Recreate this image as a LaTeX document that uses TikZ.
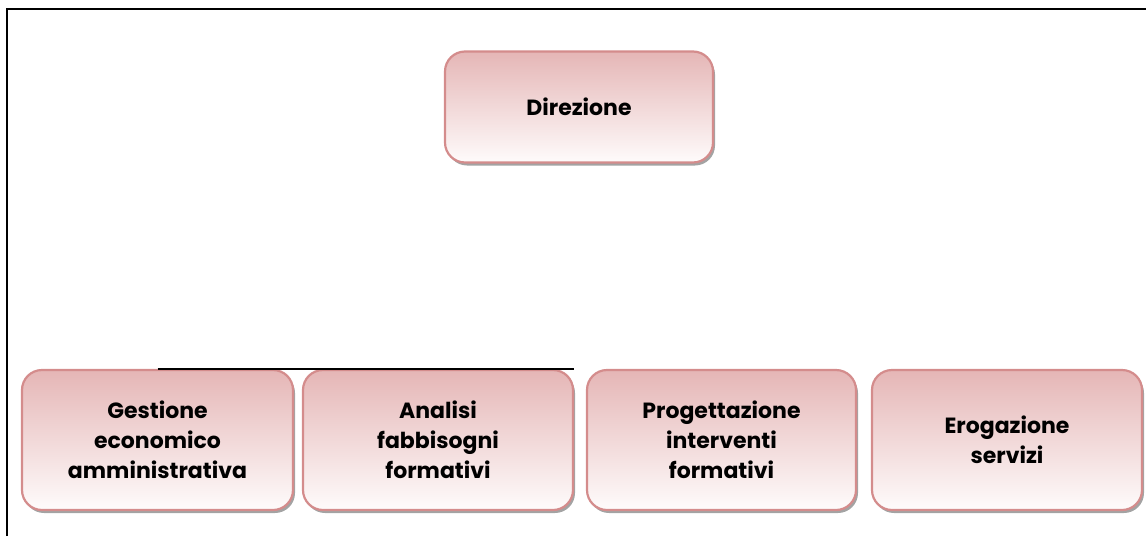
\documentclass[tikz,border=0pt]{standalone}
\usepackage{fontspec}
\setmainfont{Poppins}
\usepackage{tikz}
\usetikzlibrary{shadows}
\definecolor{rosetop}{HTML}{E5B6B6}
\definecolor{rosebot}{HTML}{FEFBFB}
\definecolor{roseline}{HTML}{D48C8C}
\tikzset{ufficio/.style={draw=roseline,line width=2.2pt,rounded corners=20pt,top color=rosetop,bottom color=rosebot,
  drop shadow={shadow xshift=2pt,shadow yshift=-3pt,fill=black!60,opacity=0.6},
  align=center,font=\fontsize{22}{30}\selectfont\bfseries,inner sep=0pt},
  level 1/.style={ufficio,minimum width=268pt,minimum height=111pt},
  level 2/.style={ufficio,minimum height=140pt}}

\begin{document}
\begin{tikzpicture}[x=1pt,y=-1pt]
\useasboundingbox (0,0) rectangle (1146,536);
\draw[line width=2pt] (7,536) -- (7,9) -- (1146,9);

\node[level 1] (dir) at (579,107) {Direzione};
\node[level 2,minimum width=271pt] (ges) at (157.5,440) {Gestione\\economico\\amministrativa};
\node[level 2,minimum width=270pt] (ana) at (438,440) {Analisi\\fabbisogni\\formativi};
\node[level 2,minimum width=269pt] (pro) at (721.5,440) {Progettazione\\interventi\\formativi};
\node[level 2,minimum width=270pt] (ero) at (1007,440) {Erogazione\\servizi};
\draw[line width=1.5pt] (ges.north) -- (ana.north east);
\end{tikzpicture}
\end{document}
